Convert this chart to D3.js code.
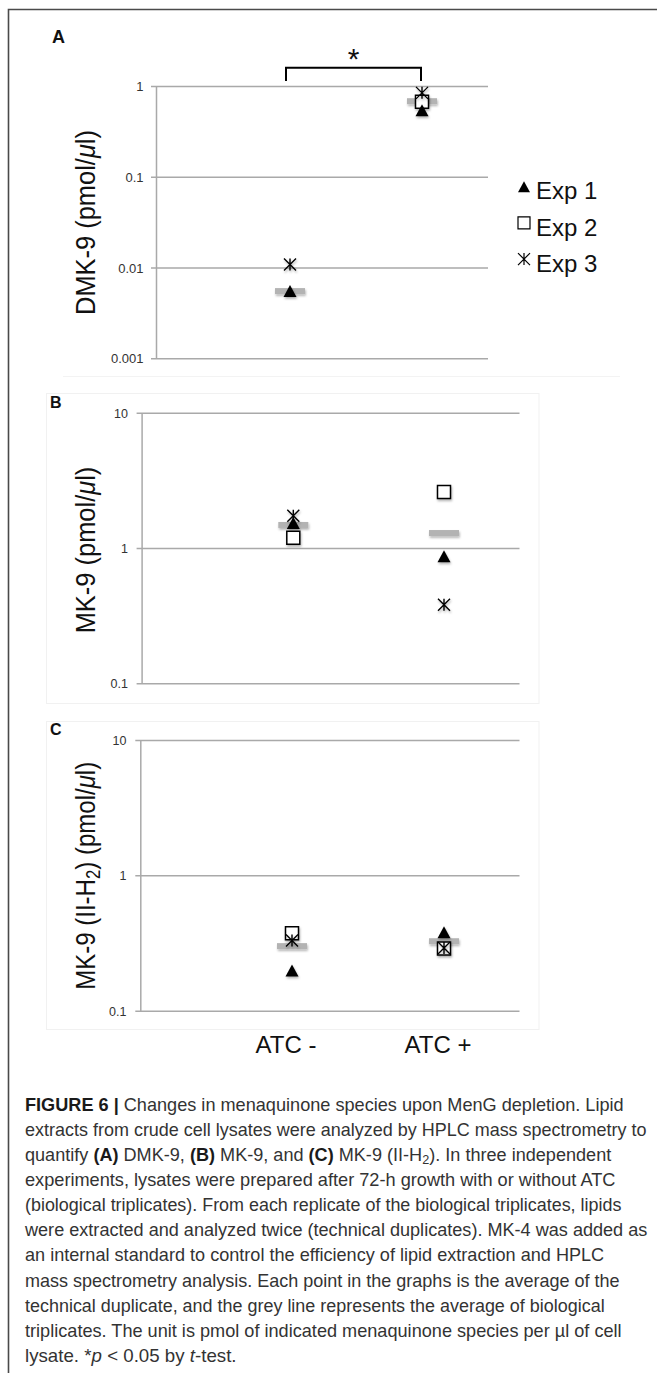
<!DOCTYPE html>
<html><head><meta charset="utf-8">
<script src="https://cdn.jsdelivr.net/npm/d3@7"></script>
<style>
html,body{margin:0;padding:0;background:#fff;}
svg{display:block;}
text{font-family:"Liberation Sans", Arial, Helvetica, sans-serif; white-space:pre;}
</style></head><body>
<svg id="chart" width="657" height="1376"></svg>
<script>
// ---------------- DATA ----------------
const categories = ["ATC -", "ATC +"];
const seriesNames = ["Exp 1", "Exp 2", "Exp 3"];

// Panel A: DMK-9 (pmol/µl)
const dmk9Exp1 = [0.0055, 0.54];
const dmk9Exp2 = [null, 0.67];
const dmk9Exp3 = [0.0108, 0.84];
const dmk9Mean = [0.0055, 0.68];
const dmk9Ticks = [1, 0.1, 0.01, 0.001];
const dmk9TickLabels = ["1", "0.1", "0.01", "0.001"];

// Panel B: MK-9 (pmol/µl)
const mk9Exp1 = [1.53, 0.87];
const mk9Exp2 = [1.19, 2.59];
const mk9Exp3 = [1.73, 0.38];
const mk9Mean = [1.48, 1.29];

// Panel C: MK-9 (II-H2) (pmol/µl)
const mk9h2Exp1 = [0.198, 0.38];
const mk9h2Exp2 = [0.374, 0.288];
const mk9h2Exp3 = [0.33, 0.29];
const mk9h2Mean = [0.30, 0.326];

const bcTicks = [10, 1, 0.1];
const bcTickLabels = ["10", "1", "0.1"];

const captionLines = [
  [["FIGURE 6 |", "b"], [" Changes in menaquinone species upon MenG depletion. Lipid"]],
  [["extracts from crude cell lysates were analyzed by HPLC mass spectrometry to"]],
  [["quantify "], ["(A)", "b"], [" DMK-9, "], ["(B)", "b"], [" MK-9, and "], ["(C)", "b"], [" MK-9 (II-H"], ["2", "sub"], ["). In three independent"]],
  [["experiments, lysates were prepared after 72-h growth with or without ATC"]],
  [["(biological triplicates). From each replicate of the biological triplicates, lipids"]],
  [["were extracted and analyzed twice (technical duplicates). MK-4 was added as"]],
  [["an internal standard to control the efficiency of lipid extraction and HPLC"]],
  [["mass spectrometry analysis. Each point in the graphs is the average of the"]],
  [["technical duplicate, and the grey line represents the average of biological"]],
  [["triplicates. The unit is pmol of indicated menaquinone species per µl of cell"]],
  [["lysate. *"], ["p", "i"], [" < 0.05 by "], ["t", "i"], ["-test."]]
];

// ---------------- LAYOUT ----------------
const svg = d3.select("#chart");
const defs = svg.append("defs");
const f = defs.append("filter").attr("id", "sh").attr("x", "-60%").attr("y", "-60%").attr("width", "220%").attr("height", "220%");
f.append("feDropShadow").attr("dx", 0.8).attr("dy", 1.8).attr("stdDeviation", 1.2).attr("flood-color", "#000").attr("flood-opacity", 0.3);

// custom marker types
const triangleType = { draw(ctx, s) { const h = s * 0.92; ctx.moveTo(0, -h / 2); ctx.lineTo(s / 2, h / 2); ctx.lineTo(-s / 2, h / 2); ctx.closePath(); } };
const squareType = { draw(ctx, s) { ctx.rect(-s / 2, -s / 2, s, s); } };
const starType = { draw(ctx, s) { const r = s / 2; ctx.moveTo(-r, -r); ctx.lineTo(r, r); ctx.moveTo(r, -r); ctx.lineTo(-r, r); ctx.moveTo(0, -r); ctx.lineTo(0, r); } };
const markerStyles = [
  { type: triangleType, size: 13, fill: "#000", stroke: "none", sw: 0 },
  { type: squareType, size: 13, fill: "#fff", stroke: "#000", sw: 1.5 },
  { type: starType, size: 12, fill: "none", stroke: "#000", sw: 1.4 }
];

function addRich(textSel, segs) {
  let shifted = false;
  segs.forEach(([t, st]) => {
    const ts = textSel.append("tspan").text(t);
    if (st === "b") ts.attr("font-weight", "bold").attr("fill", "#1a1a1a");
    if (st === "i") ts.attr("font-style", "italic");
    if (st === "sub") { ts.attr("font-size", "70%").attr("dy", "0.25em"); shifted = true; }
    else if (shifted) { ts.attr("dy", "-0.175em"); shifted = false; }
  });
}
function fitX(textSel, target) {
  const w = textSel.node().getBBox().width;
  textSel.attr("transform", `scale(${w > 0 ? target / w : 1},1)`);
}

// outer frame
svg.append("path").attr("d", "M8.5,1373 V9.5 H657").attr("fill", "none").attr("stroke", "#4a4a4a").attr("stroke-width", 1.6);

// faint panel boxes
svg.append("line").attr("x1", 63).attr("x2", 620).attr("y1", 376.5).attr("y2", 376.5).attr("stroke", "#f3f3f3");
svg.append("rect").attr("x", 46.5).attr("y", 393.5).attr("width", 492.5).attr("height", 310).attr("fill", "none").attr("stroke", "#f1f1f1");
svg.append("rect").attr("x", 46.5).attr("y", 721.5).attr("width", 492.5).attr("height", 308).attr("fill", "none").attr("stroke", "#f1f1f1");

const panels = [
  { letter: "A", lx: 52, ly: 42.7, lsize: 18,
    exps: [dmk9Exp1, dmk9Exp2, dmk9Exp3], mean: dmk9Mean,
    ticks: dmk9Ticks, tickLabels: dmk9TickLabels, domain: [0.001, 1],
    axisX: 156, right: 488, yTop: 86, yBot: 358.3, xr: [290, 422], tickFont: 13, labelRight: 143.5,
    ylabel: [["DMK-9 (pmol/"], ["μ", "i"], ["l)"]], ylc: 222.5, yll: 185 },
  { letter: "B", lx: 50, ly: 408.3, lsize: 16,
    exps: [mk9Exp1, mk9Exp2, mk9Exp3], mean: mk9Mean,
    ticks: bcTicks, tickLabels: bcTickLabels, domain: [0.1, 10],
    axisX: 141.6, right: 519.5, yTop: 412.7, yBot: 683.3, xr: [293.3, 444], tickFont: 12.5, labelRight: 128,
    ylabel: [["MK-9 (pmol/"], ["μ", "i"], ["l)"]], ylc: 550, yll: 166.7 },
  { letter: "C", lx: 50, ly: 735, lsize: 16,
    exps: [mk9h2Exp1, mk9h2Exp2, mk9h2Exp3], mean: mk9h2Mean,
    ticks: bcTicks, tickLabels: bcTickLabels, domain: [0.1, 10],
    axisX: 140.3, right: 519.5, yTop: 740, yBot: 1010.7, xr: [292, 444], tickFont: 12.5, labelRight: 126.5,
    ylabel: [["MK-9 (II-H"], ["2", "sub"], [") (pmol/"], ["μ", "i"], ["l)"]], ylc: 875.8, yll: 228 }
];

let xLast;
panels.forEach(p => {
  const g = svg.append("g");
  const y = d3.scaleLog().domain(p.domain).range([p.yBot, p.yTop]);
  const x = d3.scalePoint().domain(categories).range(p.xr);
  xLast = x;

  // letter
  g.append("text").attr("x", p.lx).attr("y", p.ly).attr("font-size", p.lsize).attr("font-weight", "bold").attr("fill", "#111").text(p.letter);

  // grid + axis via d3.axisLeft
  const ax = d3.axisLeft(y).tickValues(p.ticks)
    .tickFormat((d, i) => p.tickLabels[i])
    .tickSizeInner(-(p.right - p.axisX)).tickSizeOuter(0).tickPadding(0);
  const axg = g.append("g").attr("transform", `translate(${p.axisX},0)`).call(ax);
  axg.select(".domain").attr("stroke", "#a9a9a9").attr("stroke-width", 1.5);
  axg.selectAll(".tick line").attr("stroke", "#a9a9a9").attr("stroke-width", 1.5).attr("x1", -5);
  axg.selectAll(".tick text").attr("x", p.labelRight - p.axisX).attr("font-size", p.tickFont)
    .attr("fill", "#333").attr("font-family", '"Liberation Sans", Arial, sans-serif').attr("dy", "0.35em");

  // y label
  const yl = g.append("g").attr("transform", `translate(95,${p.ylc}) rotate(-90)`)
    .append("text").attr("text-anchor", "middle").attr("font-size", 28).attr("fill", "#111");
  addRich(yl, p.ylabel);
  fitX(yl, p.yll);

  // mean bars
  g.selectAll(".mean").data(p.mean.map((v, i) => ({ v, c: categories[i] })).filter(d => d.v != null))
    .enter().append("rect").attr("class", "mean")
    .attr("x", d => x(d.c) - 15).attr("y", d => y(d.v) - 3).attr("width", 30).attr("height", 6)
    .attr("fill", "#b3b3b3").attr("filter", "url(#sh)");

  // markers: draw order square, triangle, asterisk
  [1, 0, 2].forEach(si => {
    const ms = markerStyles[si];
    const sym = d3.symbol().type(ms.type).size(ms.size);
    g.selectAll(".m" + si).data(p.exps[si].map((v, i) => ({ v, c: categories[i] })).filter(d => d.v != null))
      .enter().append("path").attr("class", "m" + si)
      .attr("transform", d => `translate(${x(d.c)},${y(d.v)})`)
      .attr("d", sym).attr("fill", ms.fill).attr("stroke", ms.stroke).attr("stroke-width", ms.sw)
      .attr("filter", "url(#sh)");
  });

  if (p.letter === "A") {
    // significance bracket
    const bx1 = x(categories[0]) - 4, bx2 = x(categories[1]) - 1;
    g.append("path").attr("d", `M${bx1},81 V67.7 H${bx2} V81`).attr("fill", "none").attr("stroke", "#000").attr("stroke-width", 2);
    g.append("text").attr("x", (bx1 + bx2) / 2).attr("y", 69).attr("text-anchor", "middle").attr("font-size", 30).attr("fill", "#111").text("*");

    // legend
    const legendMarkerSize = [12, 12, 12];
    seriesNames.forEach((nm, i) => {
      const by = 199.3 + i * 36.2;
      const ms = markerStyles[i];
      g.append("path").attr("transform", `translate(524,${by - 12.6})`)
        .attr("d", d3.symbol().type(ms.type).size(legendMarkerSize[i]))
        .attr("fill", ms.fill).attr("stroke", ms.stroke).attr("stroke-width", ms.sw === 0 ? 0 : 1.2);
      g.append("text").attr("x", 536).attr("y", by).attr("font-size", 24).attr("fill", "#111").text(nm);
    });
  }
});

// x category labels (below panel C)
svg.selectAll(".xlab").data(categories).enter().append("text").attr("class", "xlab")
  .attr("x", d => xLast(d) - 6).attr("y", 1053.3).attr("text-anchor", "middle")
  .attr("font-size", 24).attr("fill", "#111").text(d => d);

// caption
const capWidths = [599, 622, 586.5, 591, 597, 623.5, 579.5, 595, 580, 597, 211.6];
captionLines.forEach((segs, i) => {
  const t = svg.append("g").attr("transform", `translate(25,${1110.5 + i * 25.15})`)
    .append("text").attr("font-size", 17.5).attr("fill", "#333");
  addRich(t, segs);
  fitX(t, capWidths[i]);
});
</script>
</body></html>
